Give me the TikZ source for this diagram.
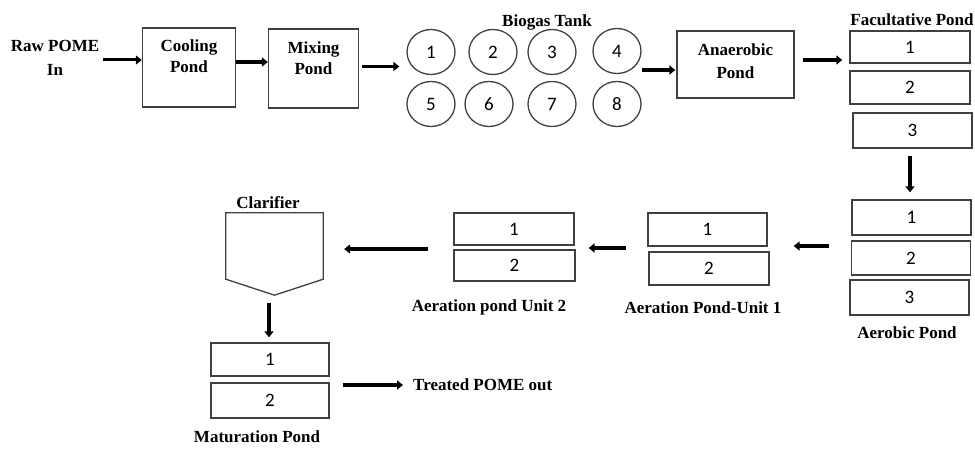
\documentclass[tikz,border=0pt]{standalone}
\usepackage{fontspec}
\setmainfont{Liberation Serif}
\newfontfamily\digitfont{Carlito}
\usetikzlibrary{arrows.meta,shapes.geometric,calc}
\begin{document}
\begin{tikzpicture}[x=1pt,y=-1pt,
  boxline/.style={draw=black!75, line width=1.3pt},
  box/.style={boxline, rectangle, inner sep=0pt},
  tank/.style={boxline, ellipse, minimum width=48pt, minimum height=45pt, inner sep=0pt, font=\digitfont\fontsize{19}{19}\selectfont},
  lbl/.style={font=\bfseries\fontsize{17}{21}\selectfont, align=center, inner sep=0pt},
  arr/.style={line width=3.5pt, -{Triangle[length=6pt,width=9pt]}},
  unit/.style={box, minimum width=119pt, minimum height=34pt, font=\digitfont\fontsize{19}{19}\selectfont},
]
\useasboundingbox (0,0) rectangle (975,449);

% top row
\node[lbl, font=\bfseries\fontsize{17}{24}\selectfont] (raw) at (55,58) {Raw POME\\In};
\node[box, minimum width=93pt, minimum height=79pt] (cool) at (189,67.5) {};
\node[lbl, anchor=north] (coolt) at ($(cool.north)+(0,12)$) {Cooling\\Pond};
\node[box, minimum width=90pt, minimum height=79pt] (mix) at (313.5,68.5) {};
\node[lbl, anchor=north] (mixt) at ($(mix.north)+(0,13)$) {Mixing\\Pond};

\node[lbl] (biogas) at (547,22) {Biogas Tank};
\node[tank] (c1) at (431,52) {1};
\node[tank] (c2) at (493,52) {2};
\node[tank] (c3) at (552,52) {3};
\node[tank] (c4) at (617,51) {4};
\node[tank] (c5) at (431,104) {5};
\node[tank] (c6) at (489,104) {6};
\node[tank] (c7) at (552,104) {7};
\node[tank] (c8) at (617,104) {8};

\node[box, minimum width=117pt, minimum height=67pt] (anae) at (735.5,64.5) {};
\node[lbl, anchor=north, font=\bfseries\fontsize{17}{23}\selectfont] (anaet) at ($(anae.north)+(0,13)$) {Anaerobic\\Pond};

\node[lbl] (fact) at (912,20) {Facultative Pond};
\node[unit, minimum width=120pt, minimum height=32pt] (f1) at (910,47) {1};
\node[unit, minimum width=120pt, minimum height=33pt] (f2) at (910,87.5) {2};
\node[unit, minimum height=35pt] (f3) at (912.5,130.5) {3};

% right column
\node[unit, minimum height=35pt] (a1) at (911.5,217.5) {1};
\node[unit, minimum height=34pt] (a2) at (911,258) {2};
\node[unit, minimum height=35pt] (a3) at (909.5,297.5) {3};
\node[lbl] (aert) at (907,333) {Aerobic Pond};

% aeration units
\node[unit, minimum height=33pt] (u1a) at (707.5,229.5) {1};
\node[unit, minimum width=120pt, minimum height=33pt] (u1b) at (709,268.5) {2};
\node[lbl] (u1t) at (703,308) {Aeration Pond-Unit 1};

\node[unit, minimum width=120pt, minimum height=32pt] (u2a) at (514,229) {1};
\node[unit, minimum width=121pt, minimum height=31pt] (u2b) at (514.5,265.5) {2};
\node[lbl] (u2t) at (489,307) {Aeration pond Unit 2};

% clarifier
\node[minimum width=97pt, minimum height=82pt, inner sep=0pt] (clar) at (274.5,254) {};
\draw[boxline] (clar.north west) -- (clar.north east) -- ($(clar.south east)+(0,-16)$)
  -- (clar.south) -- ($(clar.south west)+(0,-16)$) -- cycle;
\node[lbl] (clart) at (268,203) {Clarifier};

% maturation
\node[unit, minimum width=118pt, minimum height=33pt] (m1) at (270,359.5) {1};
\node[unit, minimum width=118pt, minimum height=35pt] (m2) at (270,400.5) {2};
\node[lbl] (mt) at (257,437) {Maturation Pond};
\node[lbl, anchor=west] (out) at (413,385) {Treated POME out};

% connectors
\draw[arr, line width=3pt] ($(raw.east)+(4,2)$) coordinate (r0) -- (r0 -| cool.west);
\draw[arr, line width=4.5pt] ($(cool.east)+(0,-5.5)$) coordinate (k0) -- (k0 -| mix.west);
\draw[arr] ($(mix.east)+(2.5,-2)$) coordinate (m0) -- ($(m0 -| c1.west)+(-7,0)$);
\draw[arr] ($(c4.east)+(0,19)$) coordinate (b0) -- ($(b0 -| anae.west)+(-1,0)$);
\draw[arr] ($(anae.east)+(8,-4.5)$) coordinate (n0) -- ($(n0 -| f1.west)+(-7,0)$);
\draw[arr] ($(f3.south)+(-2.5,7)$) -- ($(a1.north)+(-1.5,-7)$);
\draw[arr] ($(a1.west)+(-22,28.5)$) coordinate (e0) -- ($(e0 -| u1a.east)+(26,0)$);
\draw[arr] ($(u1a.west)+(-21,18.5)$) coordinate (g0) -- ($(g0 -| u2a.east)+(14,0)$);
\draw[arr] ($(u2a.west)+(-25,20)$) coordinate (h0) -- ($(h0 -| clar.east)+(21,0)$);
\draw[arr] ($(clar.south)+(-5.5,8)$) -- ($(m1.north)+(-1,-5)$);
\draw[arr] ($(m2.east)+(13,-15.5)$) coordinate (o0) -- ($(o0 -| out.west)+(-10,0)$);
\end{tikzpicture}
\end{document}
